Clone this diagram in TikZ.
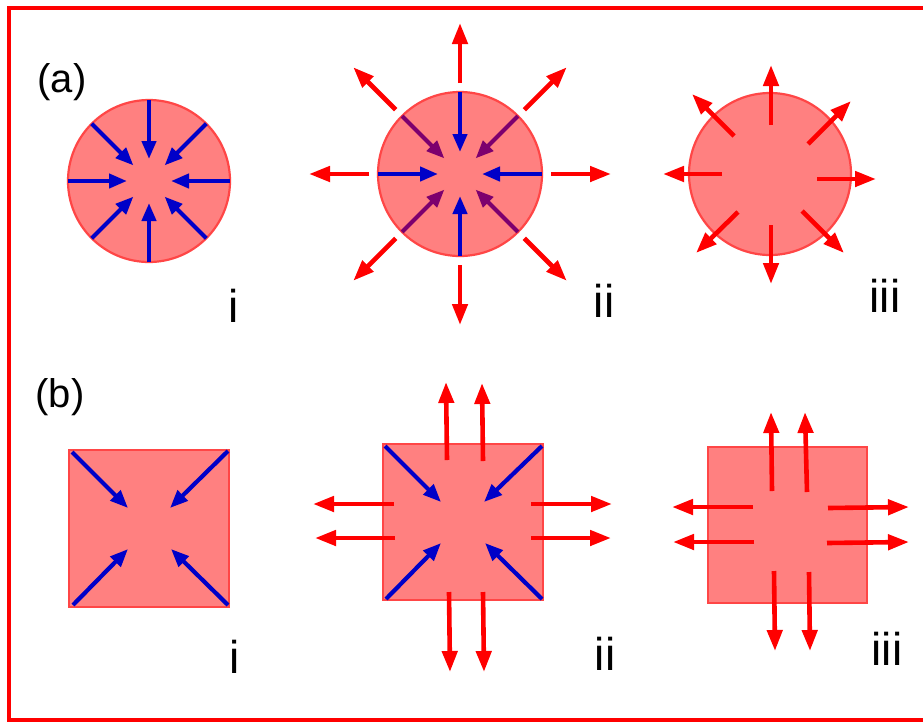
\documentclass[tikz,border=0pt]{standalone}
\usepackage{fontspec}
\setmainfont{Liberation Sans}
\usetikzlibrary{arrows.meta}
\definecolor{fillred}{RGB}{255,128,128}
\definecolor{edgered}{RGB}{255,70,70}
\definecolor{arrred}{RGB}{255,0,0}
\definecolor{arrblue}{RGB}{0,0,200}
\definecolor{arrpurple}{RGB}{125,0,110}
\tikzset{
  body/.style={fill=fillred,draw=edgered,line width=2.2pt},
  outarrow/.style={draw=arrred,line width=4.6pt,-{Triangle[length=21pt,width=15pt]}},
  inarrow/.style={draw=arrblue,line width=4.2pt,-{Triangle[length=18pt,width=14pt]}},
  inarrowp/.style={inarrow,draw=arrpurple},
  panel/.style={font=\fontsize{40}{44}\selectfont,anchor=base},
  sublabel/.style={font=\fontsize{46}{50}\selectfont,anchor=base},
  frame/.style={draw=arrred,line width=4.5pt}
}
\begin{document}
\begin{tikzpicture}[x=1pt,y=-1pt]
\clip (0,0) rectangle (923,721);
\fill[white] (0,0) rectangle (923,721);
\draw[frame] (9,8) rectangle (940,720);

% labels
\node[panel] (la) at (62,92) {(a)};
\node[panel] (lb) at (60,407) {(b)};
\node[sublabel] (ai) at (234,322) {i};
\node[sublabel] (aii) at (604,317) {ii};
\node[sublabel] (aiii) at (885,312) {iii};
\node[sublabel] (bi) at (235,673) {i};
\node[sublabel] (bii) at (605,670) {ii};
\node[sublabel] (biii) at (887,665) {iii};

% (a) i
\draw[body] (149,181) circle[radius=81];
\foreach \a in {0,45,...,315}
  \draw[inarrow,shift={(149,181)}] (\a:81) -- (\a:22);

% (a) ii
\draw[body] (460,174) circle[radius=82];
\foreach \a in {0,90,180,270}
  \draw[inarrow,shift={(460,174)}] (\a:82) -- (\a:22);
\foreach \a in {45,135,225,315}
  \draw[inarrowp,shift={(460,174)}] (\a:82) -- (\a:22);
\foreach \a in {0,45,...,315}
  \draw[outarrow,shift={(460,174)}] (\a:91) -- (\a:151);

% (a) iii
\draw[body] (770,174) circle[radius=81];
\draw[outarrow] (771,125) -- (771,65);
\draw[outarrow] (722,174) -- (663,174);
\draw[outarrow] (817,179) -- (876,179);
\draw[outarrow] (771,225) -- (771,284);
\draw[outarrow] (734,136) -- (692,94);
\draw[outarrow] (808,144) -- (851,101);
\draw[outarrow] (738,212) -- (696,253);
\draw[outarrow] (802,211) -- (844,253);

% (b) i
\draw[body] (69,450) rectangle (229,607);
\draw[inarrow] (72,452) -- (128,508);
\draw[inarrow] (228,451) -- (170,508);
\draw[inarrow] (73,605) -- (128,549);
\draw[inarrow] (228,605) -- (171,549);

% (b) ii
\draw[body] (383,444) rectangle (543,600);
\draw[inarrow] (385,446) -- (441,502);
\draw[inarrow] (542,446) -- (484,502);
\draw[inarrow] (386,599) -- (441,543);
\draw[inarrow] (542,599) -- (485,543);
\draw[outarrow] (447,460) -- (446,382);
\draw[outarrow] (483,461) -- (482,383);
\draw[outarrow] (394,504) -- (313,504);
\draw[outarrow] (395,538) -- (315,538);
\draw[outarrow] (531,504) -- (612,504);
\draw[outarrow] (531,538) -- (611,538);
\draw[outarrow] (449,592) -- (450,672);
\draw[outarrow] (483,592) -- (484,672);

% (b) iii
\draw[body] (708,447) rectangle (867,603);
\draw[outarrow] (772,491) -- (771,412);
\draw[outarrow] (807,492) -- (805,412);
\draw[outarrow] (753,507) -- (672,507);
\draw[outarrow] (754,542) -- (673,542);
\draw[outarrow] (828,508) -- (909,507);
\draw[outarrow] (827,543) -- (909,542);
\draw[outarrow] (774,571) -- (775,651);
\draw[outarrow] (809,572) -- (810,651);
\end{tikzpicture}
\end{document}
